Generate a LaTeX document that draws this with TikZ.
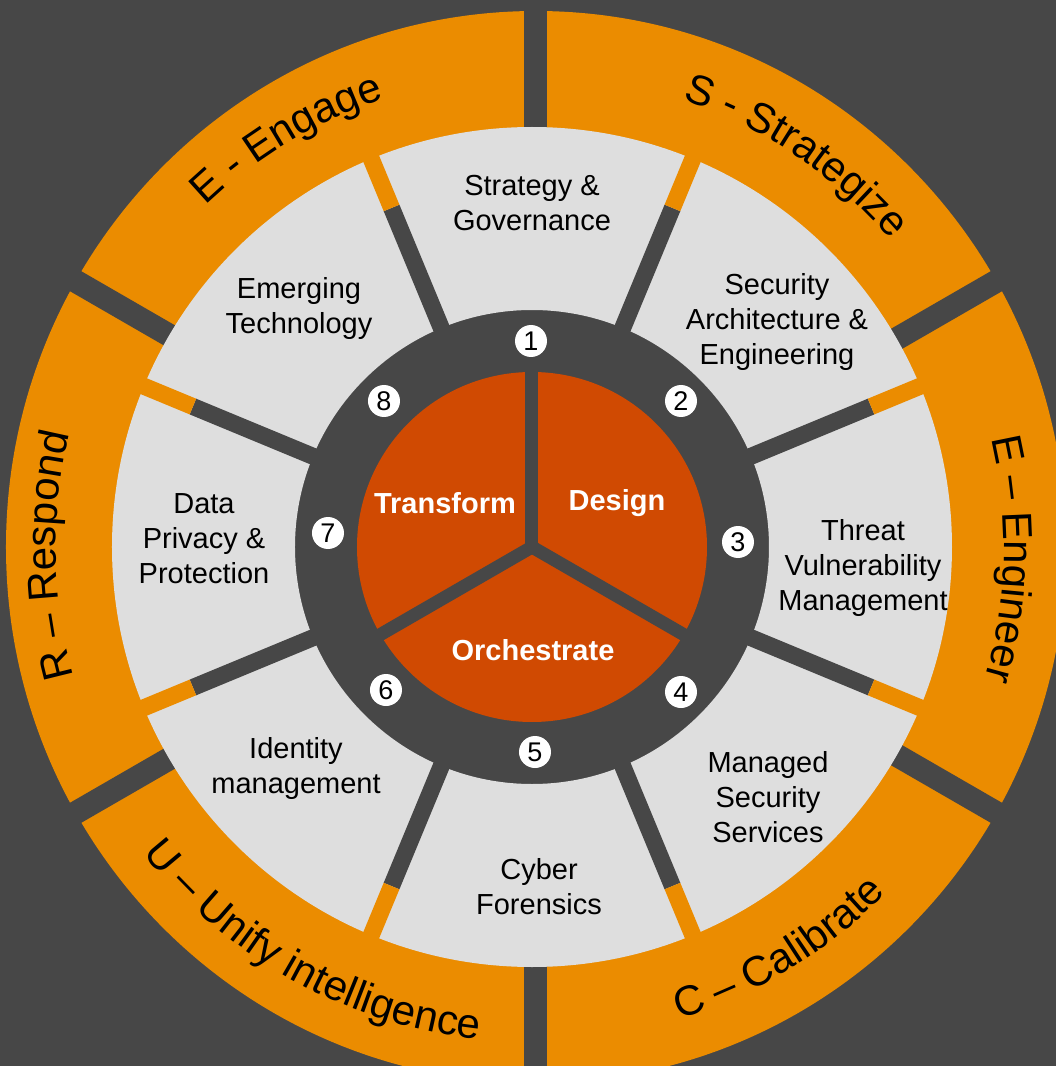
\documentclass[tikz,border=0pt]{standalone}
\usepackage{fontspec}
\setmainfont{Liberation Sans}
\usepackage{xcolor}
\usetikzlibrary{decorations.text}

\definecolor{bgdark}{HTML}{474747}
\definecolor{ringorange}{HTML}{EB8C00}
\definecolor{seggray}{HTML}{DEDEDE}
\definecolor{corered}{HTML}{D04A02}

\begin{document}
\begin{tikzpicture}[x=1pt, y=1pt,
        seg/.style = {align=center, font=\fontsize{29}{35}\selectfont},
        num/.style = {circle, fill=white, inner sep=0pt, minimum size=32pt, font=\fontsize{27}{27}\selectfont},
        core/.style = {text=white, font=\bfseries\fontsize{29}{29}\selectfont},
        ringtext/.style = {decorate, decoration={text along path, text align=center, text={|\fontsize{42}{42}\selectfont|#1}}}]
        \useasboundingbox (-532,-519) rectangle (524,547);
        \clip (-532,-519) rectangle (524,547);
        \fill[bgdark] (-532,-519) rectangle (524,547);

        % outer ring, six parts
        \fill[ringorange, even odd rule] (4,0) ellipse[x radius=530pt, y radius=536pt] (0,0) circle[radius=367pt];
        \draw[bgdark, line width=23pt] (4,0) -- +(90:600);
        \draw[bgdark, line width=23pt] (4,0) -- +(30:600);
        \draw[bgdark, line width=23pt] (4,0) -- +(-30:600);
        \draw[bgdark, line width=23pt] (4,0) -- +(-90:600);
        \draw[bgdark, line width=23pt] (4,0) -- +(-150:600);
        \draw[bgdark, line width=23pt] (4,0) -- +(150:600);

        % grey ring, eight parts
        \fill[seggray, even odd rule] (0,0) circle[radius=420pt] (0,0) circle[radius=237pt];
        \draw[bgdark, line width=17pt] (0,0) -- (22.5:367);
        \draw[bgdark, line width=17pt] (0,0) -- (67.5:367);
        \draw[bgdark, line width=17pt] (0,0) -- (112.5:367);
        \draw[bgdark, line width=17pt] (0,0) -- (157.5:367);
        \draw[bgdark, line width=17pt] (0,0) -- (-157.5:367);
        \draw[bgdark, line width=17pt] (0,0) -- (-112.5:367);
        \draw[bgdark, line width=17pt] (0,0) -- (-67.5:367);
        \draw[bgdark, line width=17pt] (0,0) -- (-22.5:367);
        \draw[ringorange, line width=17pt] (22.5:367) -- (22.5:428);
        \draw[ringorange, line width=17pt] (67.5:367) -- (67.5:428);
        \draw[ringorange, line width=17pt] (112.5:367) -- (112.5:428);
        \draw[ringorange, line width=17pt] (157.5:367) -- (157.5:428);
        \draw[ringorange, line width=17pt] (-157.5:367) -- (-157.5:428);
        \draw[ringorange, line width=17pt] (-112.5:367) -- (-112.5:428);
        \draw[ringorange, line width=17pt] (-67.5:367) -- (-67.5:428);
        \draw[ringorange, line width=17pt] (-22.5:367) -- (-22.5:428);

        % core
        \fill[corered] (0,0) circle[radius=175pt];
        \draw[bgdark, line width=13pt, line cap=round] (0,0) -- (90:185);
        \draw[bgdark, line width=13pt, line cap=round] (0,0) -- (210:185);
        \draw[bgdark, line width=13pt, line cap=round] (0,0) -- (330:185);
        \node[core] (transform) at (-87,44) {Transform};
        \node[core] (design) at (85,44) {Design};
        \node[core] (orchestrate) at (1,-103) {Orchestrate};

        % numbers
        \node[num] (1) at (-1,206) {1};
        \node[num] (2) at (149,146) {2};
        \node[num] (3) at (206,5) {3};
        \node[num] (4) at (149,-145) {4};
        \node[num] (5) at (3,-205) {5};
        \node[num] (6) at (-146,-143) {6};
        \node[num] (7) at (-204,14) {7};
        \node[num] (8) at (-148,146) {8};

        % grey ring labels
        \node[seg] (strategy) at (0,344) {Strategy \&\\Governance};
        \node[seg] (architecture) at (245,225) {Security\\Architecture \&\\Engineering};
        \node[seg] (threat) at (331,-21) {Threat\\Vulnerability\\Management};
        \node[seg] (managed) at (236,-250) {Managed\\Security\\Services};
        \node[seg] (forensics) at (7,-340) {Cyber\\Forensics};
        \node[seg] (identity) at (-236,-221) {Identity\\management};
        \node[seg] (privacy) at (-328,8) {Data\\Privacy \&\\Protection};
        \node[seg] (emerging) at (-233,238) {Emerging\\Technology};

        % outer ring labels
        \path[ringtext={E - Engage}] (161:472) arc[start angle=161, end angle=81, radius=472pt];
        \path[ringtext={S - Strategize}] (96:472) arc[start angle=96, end angle=16, radius=472pt];
        \path[ringtext={E – Engineer}] (38.5:472) arc[start angle=38.5, end angle=-41.5, radius=472pt];
        \path[ringtext={C – Calibrate}] (-98.5:495) arc[start angle=-98.5, end angle=-18.5, radius=495pt];
        \path[ringtext={U – Unify intelligence}] (-159:495) arc[start angle=-159, end angle=-79, radius=495pt];
        \path[ringtext={R – Respond}] (221:476) arc[start angle=221, end angle=141, radius=476pt];
\end{tikzpicture}
\end{document}
